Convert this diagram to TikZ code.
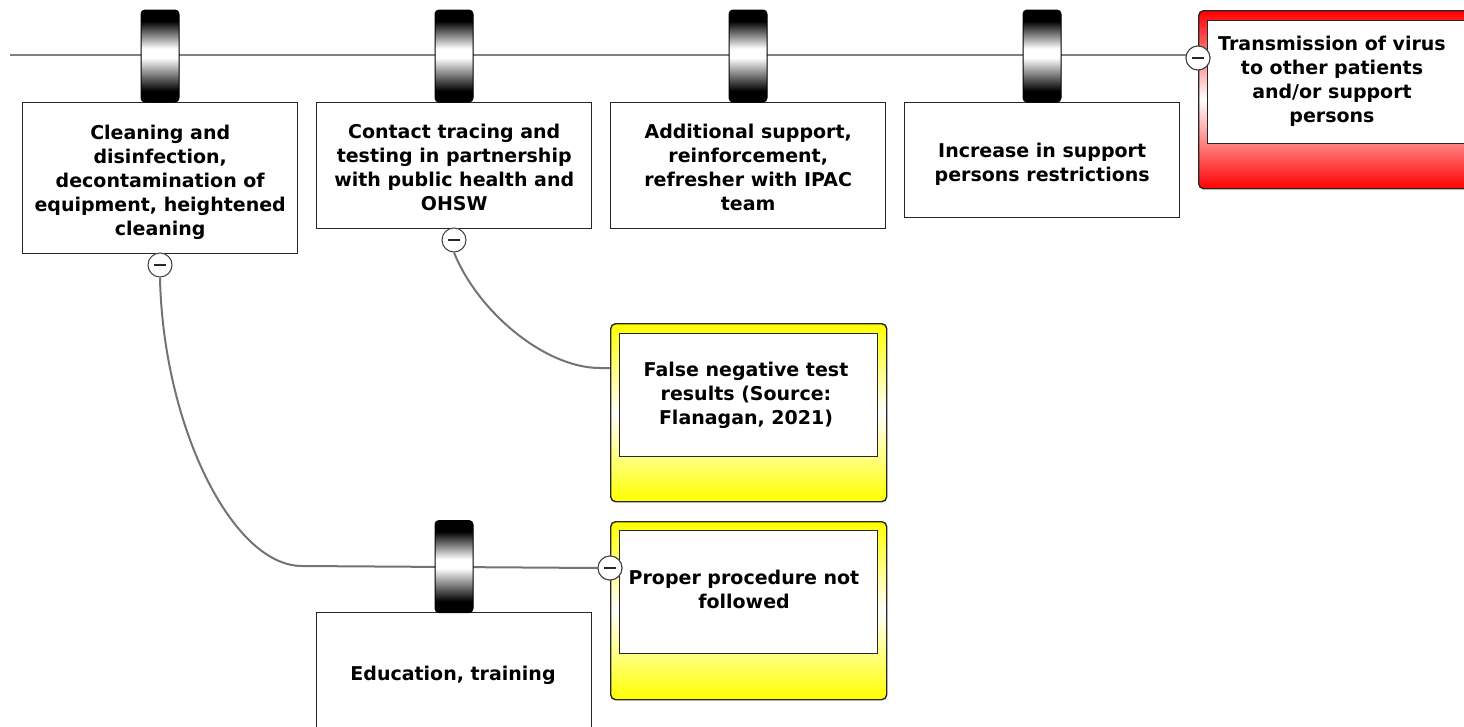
\documentclass[tikz,border=0pt]{standalone}
\usepackage{fontspec}
\setmainfont{DejaVu Sans}
% metallic band used for barrier handles (path box maps to 25bp..75bp)
\pgfdeclareverticalshading{handleband}{100bp}{color(0bp)=(black); color(31bp)=(black);
  color(49bp)=(white); color(54bp)=(white); color(69bp)=(black); color(100bp)=(black)}
\begin{document}
\begin{tikzpicture}[x=1pt,y=-1pt,
  txt/.style={font=\fontsize{19}{24}\selectfont\bfseries, align=center, text=black},
  wire/.style={draw=black!50, line width=2pt},
  link/.style={draw=black!55, line width=2pt},
  barrierbox/.style={draw=black!85, line width=1.4pt, fill=white, anchor=north west, inner sep=0pt},
  handle/.style={draw=black, line width=1pt, rounded corners=4pt, minimum width=38, minimum height=92,
    inner sep=0pt, shading=handleband},
  redframe/.style={draw=black!85, line width=1.4pt, rounded corners=5pt, anchor=north west,
    top color=red, bottom color=red, middle color=white, inner sep=0pt},
  yellowframe/.style={draw=black!85, line width=1.4pt, rounded corners=5pt, anchor=north west,
    top color=yellow, bottom color=yellow, middle color=white, inner sep=0pt,
    minimum width=276, minimum height=178},
  innerbox/.style={draw=black!85, line width=1.4pt, fill=white, anchor=north west, inner sep=0pt},
  minus/.style={circle, draw=black!75, line width=1pt, fill=white, minimum size=24, inner sep=0pt,
    path picture={\draw[black!85, line width=1.4pt] ([xshift=-6pt]path picture bounding box.center) -- ([xshift=6pt]path picture bounding box.center);}}
]
\useasboundingbox (0,0) rectangle (1464,726);
\clip (0,0) rectangle (1464,726);

% consequence (top event) on the right
\node[redframe, minimum width=300, minimum height=178] (hz) at (1198,10) {};
\node[innerbox, minimum width=290, minimum height=123] (hzi) at (1207,20) {};
\node[txt] (hzt) at (1332,81) {Transmission of virus\\to other patients\\and/or support\\persons};

% escalation factors
\node[yellowframe] (y1) at (610,323) {};
\node[innerbox, minimum width=258, minimum height=123] (y1i) at (619,333) {};
\node[txt] (y1t) at (746,395) {False negative test\\results (Source:\\Flanagan, 2021)};

\node[yellowframe] (y2) at (610,521) {};
\node[innerbox, minimum width=258, minimum height=123] (y2i) at (619,530) {};
\node[txt] (y2t) at (744,589) {Proper procedure not\\followed};

% minus markers
\node[minus] (m0) at (1198,58) {};
\node[minus] (m3) at (610,568) {};

% main pathway
\coordinate (start) at (10,55);
\draw[wire] (start) -- (start -| m0.west);

% barriers on the main pathway
\node[barrierbox, minimum width=275, minimum height=151] (b1) at (22,102) {};
\node[barrierbox, minimum width=275, minimum height=126] (b2) at (316,102) {};
\node[barrierbox, minimum width=275, minimum height=126] (b3) at (610,102) {};
\node[barrierbox, minimum width=275, minimum height=115] (b4) at (904,102) {};
\node[txt] at ([yshift=-4]b1.center) {Cleaning and\\disinfection,\\decontamination of\\equipment, heightened\\cleaning};
\node[txt] at ([yshift=-2]b2.center) {Contact tracing and\\testing in partnership\\with public health and\\OHSW};
\node[txt] at ([yshift=-2]b3.center) {Additional support,\\reinforcement,\\refresher with IPAC\\team};
\node[txt] at ([yshift=-4]b4.center) {Increase in support\\persons restrictions};

\node[minus] (m1) at (160,265) {};
\node[minus] (m2) at (454,240) {};

% escalation factor links
\coordinate (c1) at (302,566);
\draw[link] (m1.south) .. controls (163,425) and (232,566) .. (c1) -- (m3.west);
\draw[link] (m2.south) .. controls (478,312) and (545,368) .. (600,368) -- (y1.west |- 0,368);

\node[minus] at (m3) {};

% escalation barrier
\node[barrierbox, minimum width=275, minimum height=130] (b5) at (316,612) {};
\node[txt] at (453,675) {Education, training};

% handles
\node[handle] (k1) at (160,56) {};
\node[handle] (k2) at (454,56) {};
\node[handle] (k3) at (748,56) {};
\node[handle] (k4) at (1042,56) {};
\node[handle] (k5) at (454,566.5) {};
\node[minus] at (m0) {};
\end{tikzpicture}
\end{document}
